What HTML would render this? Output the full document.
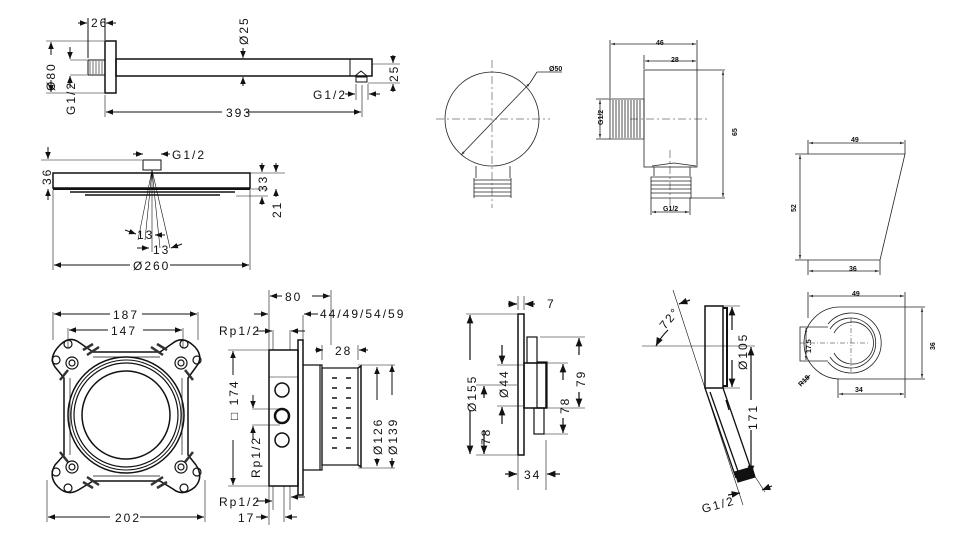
<!DOCTYPE html>
<html><head><meta charset="utf-8"><style>
html,body{margin:0;padding:0;background:#fff}
svg{display:block}
text{font-family:"Liberation Sans",sans-serif;fill:#111}
.t{font-size:12px;letter-spacing:2px}
</style></head><body>
<svg width="960" height="544" viewBox="0 0 960 544" xmlns="http://www.w3.org/2000/svg">
<defs>
<marker id="a" viewBox="0 0 10 10" refX="10" refY="5" markerWidth="7" markerHeight="7" orient="auto-start-reverse"><path d="M0,1 L10,5 L0,9z" fill="#111"/></marker>
<marker id="b" viewBox="0 0 10 10" refX="10" refY="5" markerWidth="5" markerHeight="5" orient="auto-start-reverse"><path d="M0,2 L10,5 L0,8z" fill="#333"/></marker>
</defs>
<g stroke="#111" fill="none" stroke-width="1">
<!-- shower arm -->
<rect x="105" y="41" width="11" height="52" stroke-width="1.5"/>
<rect x="88" y="60" width="17" height="15"/>
<path d="M90,61v13M93,61v13M96,61v13M99,61v13M102,61v13" stroke-width=".6"/>
<rect x="116" y="59" width="256" height="17" stroke-width="1.5"/>
<line x1="350" y1="59" x2="350" y2="76"/>
<path d="M355,76 l6,-5 l6,5 M356,77h11v5h-11z"/>
<path d="M88,18v40 M105,18v22"/>
<line x1="78" y1="23" x2="87" y2="23" marker-end="url(#a)"/><line x1="116" y1="23" x2="106" y2="23" marker-end="url(#a)"/>
<line x1="46" y1="41" x2="104" y2="41" stroke-width=".6"/><line x1="46" y1="93" x2="104" y2="93" stroke-width=".6"/>
<line x1="51" y1="55" x2="51" y2="42" marker-end="url(#a)"/><line x1="51" y1="80" x2="51" y2="92" marker-end="url(#a)"/>
<line x1="70" y1="60" x2="87" y2="60" stroke-width=".6"/><line x1="70" y1="75" x2="87" y2="75" stroke-width=".6"/>
<line x1="70" y1="47" x2="70" y2="59" marker-end="url(#a)"/><line x1="70" y1="88" x2="70" y2="76" marker-end="url(#a)"/>
<line x1="243" y1="48" x2="243" y2="58" marker-end="url(#a)"/><line x1="243" y1="86" x2="243" y2="77" marker-end="url(#a)"/>
<line x1="105" y1="95" x2="105" y2="117" stroke-width=".6"/><line x1="362" y1="85" x2="362" y2="117" stroke-width=".6"/>
<line x1="222" y1="112" x2="106" y2="112" marker-end="url(#a)"/><line x1="246" y1="112" x2="361" y2="112" marker-end="url(#a)"/>
<line x1="372" y1="64" x2="400" y2="64" stroke-width=".6"/><line x1="368" y1="83" x2="400" y2="83" stroke-width=".6"/>
<line x1="393" y1="55" x2="393" y2="63" marker-end="url(#a)"/><line x1="393" y1="92" x2="393" y2="84" marker-end="url(#a)"/>
<line x1="345" y1="94" x2="355" y2="94" marker-end="url(#a)"/><line x1="380" y1="94" x2="369" y2="94" marker-end="url(#a)"/>
<line x1="356" y1="84" x2="356" y2="100" stroke-width=".6"/><line x1="368" y1="84" x2="368" y2="100" stroke-width=".6"/>
<!-- shower head -->
<rect x="143" y="160" width="18" height="10"/>
<rect x="53" y="173" width="197" height="15" stroke-width="1.5"/>
<line x1="53" y1="189" x2="250" y2="189" stroke-width="2"/>
<path d="M70,192 H235 M85,195 H220" stroke-width="1.5"/>
<path d="M152,170 L138,240 M152,170 L170,248 M152,170 L145,240 M152,170 L160,248 M152,170V252" stroke-width=".6"/>
<line x1="41" y1="160" x2="142" y2="160" stroke-width=".6"/>
<line x1="48" y1="147" x2="48" y2="159" marker-end="url(#a)"/><line x1="48" y1="200" x2="48" y2="189" marker-end="url(#a)"/>
<line x1="133" y1="154" x2="143" y2="154" marker-end="url(#a)"/><line x1="170" y1="154" x2="161" y2="154" marker-end="url(#a)"/>
<line x1="250" y1="173" x2="285" y2="173" stroke-width=".6"/><line x1="250" y1="189" x2="268" y2="189" stroke-width=".6"/><line x1="236" y1="196" x2="268" y2="196" stroke-width=".6"/>
<line x1="262" y1="163" x2="262" y2="172" marker-end="url(#a)"/><line x1="276" y1="163" x2="276" y2="172" marker-end="url(#a)"/>
<line x1="276" y1="197" x2="276" y2="189" marker-end="url(#a)"/>
<line x1="262" y1="205" x2="262" y2="197" marker-end="url(#a)"/>
<line x1="53" y1="190" x2="53" y2="270" stroke-width=".6"/><line x1="250" y1="190" x2="250" y2="270" stroke-width=".6"/>
<line x1="130" y1="265" x2="54" y2="265" marker-end="url(#a)"/><line x1="170" y1="265" x2="249" y2="265" marker-end="url(#a)"/>
<line x1="125" y1="230" x2="136" y2="234" marker-end="url(#a)"/><line x1="165" y1="235" x2="155" y2="235" marker-end="url(#a)"/>
<line x1="137" y1="248" x2="149" y2="248" marker-end="url(#a)"/><line x1="182" y1="244" x2="171" y2="248" marker-end="url(#a)"/>
<!-- mounting plate -->
<path d="M60,345 Q70,335 80,343 L93,352 H160 L173,343 Q183,335 195,347 Q204,357 196,367 L188,378 V455 L196,465 Q204,477 195,487 Q183,497 173,489 L160,481 H93 L80,489 Q68,497 58,487 Q48,477 55,465 L64,455 V378 L55,367 Q48,357 60,345Z" stroke-width="1.5"/>
<path d="M70,378V455 M182,378V455 M93,357H160 M93,476H160" stroke-width=".7"/>
<circle cx="126" cy="415" r="58" stroke-width="1.5"/><circle cx="126" cy="415" r="55"/><circle cx="126" cy="415" r="52" stroke-width="1.2"/><circle cx="126" cy="415" r="44" stroke-width="1.5"/>
<g stroke-width="1.2"><circle cx="72" cy="363" r="6"/><circle cx="181" cy="363" r="6"/><circle cx="72" cy="467" r="6"/><circle cx="181" cy="467" r="6"/>
<circle cx="72" cy="363" r="3"/><circle cx="181" cy="363" r="3"/><circle cx="72" cy="467" r="3"/><circle cx="181" cy="467" r="3"/>
<circle cx="56" cy="360" r="4"/><circle cx="197" cy="360" r="4"/><circle cx="56" cy="472" r="4"/><circle cx="197" cy="472" r="4"/>
<circle cx="68" cy="344" r="4"/><circle cx="184" cy="344" r="4"/><circle cx="68" cy="488" r="4"/><circle cx="184" cy="488" r="4"/>
<path d="M83,350l10,-6M87,355l12,-8M167,350l-10,-6M163,355l-12,-8M83,482l10,6M87,477l12,8M167,482l-10,6M163,477l-12,8M60,380l8,-10M193,380l-8,-10M60,452l8,10M193,452l-8,10" stroke-width="2.5" stroke="#333"/></g>
<path d="M53,312V340 M198,312V340 M68,328V348 M183,328V348 M47,480V522 M205,480V522" stroke-width=".6"/>
<line x1="110" y1="314" x2="54" y2="314" marker-end="url(#a)"/><line x1="142" y1="314" x2="197" y2="314" marker-end="url(#a)"/>
<line x1="108" y1="330" x2="69" y2="330" marker-end="url(#a)"/><line x1="143" y1="330" x2="182" y2="330" marker-end="url(#a)"/>
<line x1="110" y1="517" x2="48" y2="517" marker-end="url(#a)"/><line x1="140" y1="517" x2="204" y2="517" marker-end="url(#a)"/>
<!-- box side -->
<rect x="269" y="350" width="29" height="136" stroke-width="1.5"/>
<rect x="298" y="340" width="5" height="155" stroke-width="1.5"/>
<line x1="269" y1="377" x2="298" y2="377" stroke-width=".6"/>
<path d="M303,365H322V470H303 M320,365V470" stroke-width="1.2"/>
<rect x="322" y="368" width="36" height="97" stroke-width="1.2"/>
<path d="M358,368l3,-2v101l-3,-2" stroke-width="1.5"/>
<g stroke-width="1.5"><path d="M332,378h5M332,388h5M332,398h5M332,408h5M332,418h5M332,428h5M332,438h5M332,448h5M346,378h5M346,388h5M346,398h5M346,408h5M346,418h5M346,428h5M346,438h5M346,448h5"/></g>
<circle cx="282" cy="390" r="7" stroke-width="1.5"/><circle cx="282" cy="440" r="7" stroke-width="1.5"/><circle cx="282" cy="416" r="7" stroke-width="2.5"/>
<path d="M252,409H280 M252,425H280" stroke-width=".6"/>
<line x1="253" y1="395" x2="253" y2="408" marker-end="url(#a)"/><line x1="253" y1="440" x2="253" y2="426" marker-end="url(#a)"/>
<line x1="228" y1="350" x2="268" y2="350" stroke-width=".6"/><line x1="228" y1="486" x2="268" y2="486" stroke-width=".6"/>
<line x1="233" y1="375" x2="233" y2="351" marker-end="url(#a)"/><line x1="233" y1="440" x2="233" y2="485" marker-end="url(#a)"/>
<path d="M269,290V525 M331,290V345 M303,315V340 M322,345V360 M358,345V360 M273,330V350 M290,330V350 M273,486V510 M290,486V510 M284,486V522" stroke-width=".6"/>
<line x1="282" y1="296" x2="270" y2="296" marker-end="url(#a)"/><line x1="312" y1="296" x2="330" y2="296" marker-end="url(#a)"/>
<line x1="254" y1="314" x2="268" y2="314" marker-end="url(#a)"/><line x1="318" y1="314" x2="304" y2="314" marker-end="url(#a)"/>
<line x1="256" y1="331" x2="272" y2="331" marker-end="url(#a)"/><line x1="305" y1="331" x2="291" y2="331" marker-end="url(#a)"/>
<line x1="315" y1="350" x2="323" y2="350" marker-end="url(#a)"/><line x1="368" y1="350" x2="359" y2="350" marker-end="url(#a)"/>
<line x1="256" y1="501" x2="272" y2="501" marker-end="url(#a)"/><line x1="305" y1="497" x2="291" y2="497" marker-end="url(#a)"/>
<line x1="256" y1="517" x2="268" y2="517" marker-end="url(#a)"/><line x1="297" y1="517" x2="285" y2="517" marker-end="url(#a)"/>
<path d="M358,365H395 M358,468H395" stroke-width=".6"/>
<line x1="377" y1="400" x2="377" y2="367" marker-end="url(#a)"/><line x1="377" y1="458" x2="377" y2="466" marker-end="url(#a)"/>
<line x1="392" y1="395" x2="392" y2="365" marker-end="url(#a)"/><line x1="392" y1="458" x2="392" y2="468" marker-end="url(#a)"/>
</g>
<!-- texts left -->
<text class="t" x="91" y="27">26</text>
<text class="t" transform="translate(248,45) rotate(-90)">Ø25</text>
<text class="t" transform="translate(55,91) rotate(-90)">Ø80</text>
<text class="t" transform="translate(75,115) rotate(-90)">G1/2</text>
<text class="t" x="313" y="99">G1/2</text>
<text class="t" x="226" y="117">393</text>
<text class="t" transform="translate(398,82) rotate(-90)">25</text>
<text class="t" x="172" y="159">G1/2</text>
<text class="t" transform="translate(51,185) rotate(-90)">36</text>
<text class="t" transform="translate(267,192) rotate(-90)">33</text>
<text class="t" transform="translate(281,218) rotate(-90)">21</text>
<text class="t" x="137" y="239">13</text><text class="t" x="153" y="254">13</text>
<text class="t" x="133" y="270">Ø260</text>
<text class="t" x="113" y="319">187</text>
<text class="t" x="111" y="335">147</text>
<text class="t" x="115" y="522">202</text>
<text class="t" x="285" y="301">80</text>
<text class="t" x="320" y="318">44/49/54/59</text>
<text class="t" x="219" y="335">Rp1/2</text>
<text class="t" x="335" y="355">28</text>
<text class="t" transform="translate(238,420) rotate(-90)">□ 174</text>
<text class="t" transform="translate(260,478) rotate(-90)">Rp1/2</text>
<text class="t" transform="translate(382,455) rotate(-90)">Ø126</text>
<text class="t" transform="translate(397,455) rotate(-90)">Ø139</text>
<text class="t" x="219" y="506">Rp1/2</text>
<text class="t" x="238" y="522">17</text>
<!-- wall outlet -->
<g stroke="#222" fill="none" stroke-width=".8">
<circle cx="492" cy="119" r="47"/>
<path d="M436,119H550 M492,60V208" stroke-dasharray="8,3,2,3" stroke-width=".5"/>
<line x1="530" y1="83" x2="461" y2="155" marker-start="url(#b)" marker-end="url(#b)"/>
<path d="M537,72H562 M537,72L530,83"/>
<path d="M476,166V178 M510,166V178"/>
<path d="M474,180h37M474,184h37M474,188h37M474,192h37M474,196h37 M474,178v20M511,178v20"/>
<rect x="644" y="70" width="53" height="97"/>
<path d="M610,99H644V139H610z M613,100v38M616,100v38M619,100v38M622,100v38M625,100v38M628,100v38M631,100v38M634,100v38M637,100v38M640,100v38"/>
<path d="M652,166l22,-3l22,3 M654,167V176 M690,167V176"/>
<path d="M651,177h40v21h-40z M651,181h40M651,185h40M651,189h40M651,193h40"/>
<path d="M630,119H710 M670,150V210" stroke-dasharray="8,3,2,3" stroke-width=".5"/>
<path d="M610,40V98 M697,40V70 M644,55V69 M697,70H725 M690,198H725 M596,99H610 M596,139H610 M651,198V215 M690,198V215"/>
<line x1="611" y1="44" x2="696" y2="44" marker-start="url(#b)" marker-end="url(#b)"/>
<line x1="645" y1="61" x2="696" y2="61" marker-start="url(#b)" marker-end="url(#b)"/>
<line x1="723" y1="71" x2="723" y2="197" marker-start="url(#b)" marker-end="url(#b)"/>
<line x1="600" y1="100" x2="600" y2="138" marker-start="url(#b)" marker-end="url(#b)"/>
<line x1="652" y1="212" x2="689" y2="212" marker-start="url(#b)" marker-end="url(#b)"/>
<path d="M808,154H905L880,260H808" />
<path d="M795,154H808 M795,260H808 M808,140V154 M905,140V154 M808,260V275 M880,260V275"/>
<line x1="809" y1="143" x2="904" y2="143" marker-start="url(#b)" marker-end="url(#b)"/>
<line x1="800" y1="155" x2="800" y2="259" marker-start="url(#b)" marker-end="url(#b)"/>
<line x1="809" y1="271" x2="879" y2="271" marker-start="url(#b)" marker-end="url(#b)"/>
<!-- holder bottom right -->
<path d="M905,307H840A36,36 0 0 0 840,379H905V307"/>
<path d="M828,324A30,30 0 1 1 828,362 M830,329A25,25 0 1 1 830,357 M834,333A21,21 0 1 1 834,353"/>
<path d="M828,327H800V361H828"/>
<path d="M800,343H870 M851,318V372" stroke-dasharray="5,2,1,2" stroke-width=".5"/>
<path d="M808,292V318 M905,292V307 M905,307H925 M905,379H925 M838,379V398 M905,379V398"/>
<line x1="809" y1="296" x2="904" y2="296" marker-start="url(#b)" marker-end="url(#b)"/>
<line x1="922" y1="308" x2="922" y2="378" marker-start="url(#b)" marker-end="url(#b)"/>
<line x1="839" y1="394" x2="904" y2="394" marker-start="url(#b)" marker-end="url(#b)"/>
<line x1="806" y1="328" x2="806" y2="360" marker-start="url(#b)" marker-end="url(#b)"/>
<line x1="800" y1="385" x2="810" y2="375" marker-end="url(#b)"/>
</g>
<g font-family="Liberation Sans" font-size="7" font-weight="bold" fill="#222">
<text x="549" y="71">Ø50</text>
<text x="656" y="45">46</text><text x="671" y="62">28</text>
<text transform="translate(737,136) rotate(-90)">65</text>
<text transform="translate(603,125) rotate(-90)">G1/2</text>
<text x="663" y="211">G1/2</text>
<text x="851" y="142">49</text>
<text transform="translate(796,212) rotate(-90)">52</text>
<text x="849" y="271">36</text>
<text x="852" y="296">49</text>
<text transform="translate(935,350) rotate(-90)">36</text>
<text transform="translate(811,353) rotate(-90)">17.5</text>
<text transform="translate(801,387) rotate(-45)">R18</text>
<text x="855" y="392">34</text>
</g>
<!-- thermostat -->
<g stroke="#111" fill="none" stroke-width="1.2">
<rect x="518" y="314" width="6" height="141" stroke-width="1.5"/>
<rect x="527" y="337" width="10" height="26"/>
<rect x="524" y="363" width="22" height="45" stroke-width="1.5"/>
<rect x="537" y="362" width="10" height="46"/>
<rect x="534" y="408" width="10" height="26"/>
<path d="M466,314H517 M476,385H517 M476,455H517 M497,365H523 M497,406H523 M540,337H585 M546,363H568 M546,408H585 M543,434H568 M518,455V490 M546,440V490 M518,296V310 M524,296V310" stroke-width=".6"/>
<line x1="470" y1="360" x2="470" y2="315" marker-end="url(#a)"/><line x1="470" y1="410" x2="470" y2="454" marker-end="url(#a)"/>
<line x1="484" y1="398" x2="484" y2="386" marker-end="url(#a)"/>
<line x1="484" y1="430" x2="484" y2="454" marker-end="url(#a)"/>
<line x1="502" y1="345" x2="502" y2="364" marker-end="url(#a)"/><line x1="502" y1="424" x2="502" y2="407" marker-end="url(#a)"/>
<line x1="563" y1="380" x2="563" y2="364" marker-end="url(#a)"/><line x1="563" y1="418" x2="563" y2="433" marker-end="url(#a)"/>
<line x1="579" y1="355" x2="579" y2="338" marker-end="url(#a)"/><line x1="579" y1="392" x2="579" y2="407" marker-end="url(#a)"/>
<line x1="508" y1="304" x2="517" y2="304" marker-end="url(#a)"/><line x1="535" y1="304" x2="525" y2="304" marker-end="url(#a)"/>
<line x1="505" y1="474" x2="517" y2="474" marker-end="url(#a)"/><line x1="560" y1="474" x2="547" y2="474" marker-end="url(#a)"/>
<!-- hand shower -->
<rect x="705" y="306" width="18" height="82" stroke-width="1.5"/>
<path d="M723,308h4v78h-4" stroke-width="2"/>
<path d="M705,388L736,478 M723,388L752,472 M710,392L739,474 M726,400l3,10" stroke-width="1.3"/>
<path d="M735,472L752,467L755,477L738,482Z" fill="#111"/>
<path d="M673,290L743,505 M642,346H755 M723,306H740 M723,388H740 M752,472L765,492" stroke-width=".6"/>
<line x1="732" y1="330" x2="732" y2="307" marker-end="url(#a)"/><line x1="732" y1="360" x2="732" y2="387" marker-end="url(#a)"/>
<line x1="751" y1="400" x2="751" y2="347" marker-end="url(#a)"/><line x1="751" y1="430" x2="751" y2="474" marker-end="url(#a)"/>
<path d="M668,330 Q660,338 656,346" marker-end="url(#a)"/>
<line x1="690" y1="300" x2="679" y2="304" marker-end="url(#a)"/>
<line x1="728" y1="495" x2="740" y2="493" marker-end="url(#a)"/><line x1="772" y1="486" x2="762" y2="490" marker-end="url(#a)"/>
</g>
<text class="t" transform="translate(476,412) rotate(-90)">Ø155</text>
<text class="t" transform="translate(490,445) rotate(-90)">78</text>
<text class="t" transform="translate(508,398) rotate(-90)">Ø44</text>
<text class="t" transform="translate(569,414) rotate(-90)">78</text>
<text class="t" transform="translate(585,387) rotate(-90)">79</text>
<text class="t" x="547" y="308">7</text>
<text class="t" x="524" y="479">34</text>
<text class="t" transform="translate(665,330) rotate(-50)">72°</text>
<text class="t" transform="translate(747,370) rotate(-90)">Ø105</text>
<text class="t" transform="translate(757,430) rotate(-90)">171</text>
<text class="t" transform="translate(703,513) rotate(-15)">G1/2</text>
</svg>
</body></html>
